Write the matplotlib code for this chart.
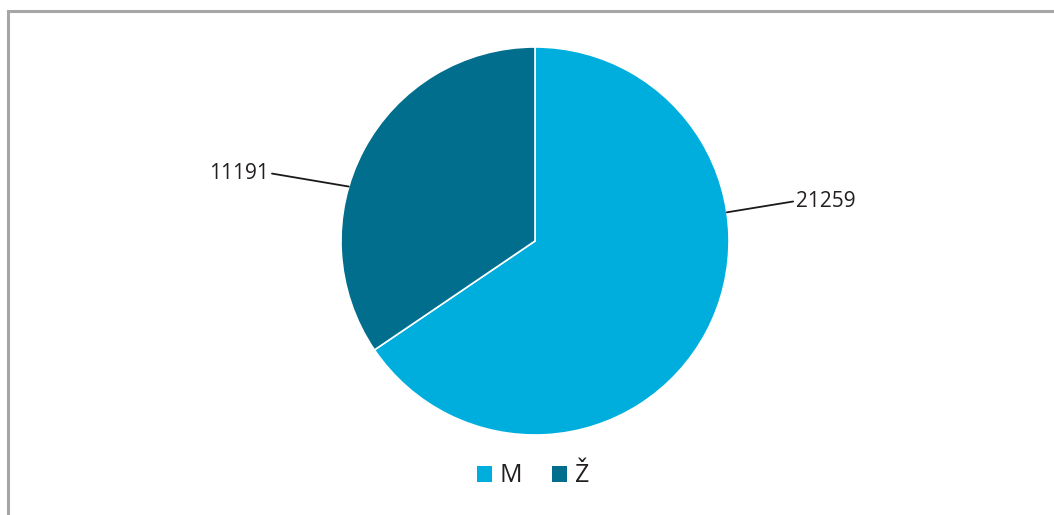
import numpy as np
import matplotlib
matplotlib.use("Agg")
import matplotlib.pyplot as plt
from matplotlib.patches import Patch, Rectangle

# data
labels = ["M", "Ž"]
values = [21259, 11191]
colors = ["#00AEDE", "#006E8C"]

# label leader angles (degrees) and text anchors, in pie radius units
label_angles = [8.5, 163.7]
text_pos = [(1.345, 0.206), (-1.37, 0.35)]
text_ha = ["left", "right"]

plt.rcParams["font.family"] = ["Open Sans", "DejaVu Sans"]

W, H = 1054, 515
fig = plt.figure(figsize=(W / 100, H / 100), dpi=100)

# pie centre and radius in pixels
cx, cy, R = 535, 241, 194
ax = fig.add_axes([(cx - R) / W, (H - cy - R) / H, 2 * R / W, 2 * R / H])
ax.pie(values, colors=colors, startangle=90, counterclock=False, radius=1,
       wedgeprops=dict(edgecolor="white", linewidth=1.2))
ax.set_xlim(-1, 1)
ax.set_ylim(-1, 1)
ax.set_aspect("auto")
ax.axis("off")

for v, ang, (tx, ty), ha in zip(values, label_angles, text_pos, text_ha):
    a = np.deg2rad(ang)
    ax.annotate(str(v), xy=(np.cos(a), np.sin(a)), xytext=(tx, ty),
                ha=ha, va="center", fontsize=15, color="#231F20",
                annotation_clip=False,
                arrowprops=dict(arrowstyle="-", color="#1a1a1a", lw=1.3,
                                shrinkA=0, shrinkB=0,
                                relpos=(0, 0.5) if ha == "left" else (1, 0.5)))

handles = [Patch(facecolor=c, edgecolor="none", label=l) for l, c in zip(labels, colors)]
fig.legend(handles=handles, loc="center", bbox_to_anchor=(533 / W, 1 - 476 / H),
           ncol=2, frameon=False, fontsize=18, handlelength=0.6, handleheight=0.6,
           handletextpad=0.32, columnspacing=1.2, labelcolor="#231F20")

# grey frame, running off the right and bottom edges
fig.patches.append(Rectangle((7.5 / W, -0.1), 1.2, 1 - 11 / H + 0.1,
                             transform=fig.transFigure, fill=False,
                             edgecolor="#A6A6A6", linewidth=2.2))

fig.savefig("out.png", dpi=100)
